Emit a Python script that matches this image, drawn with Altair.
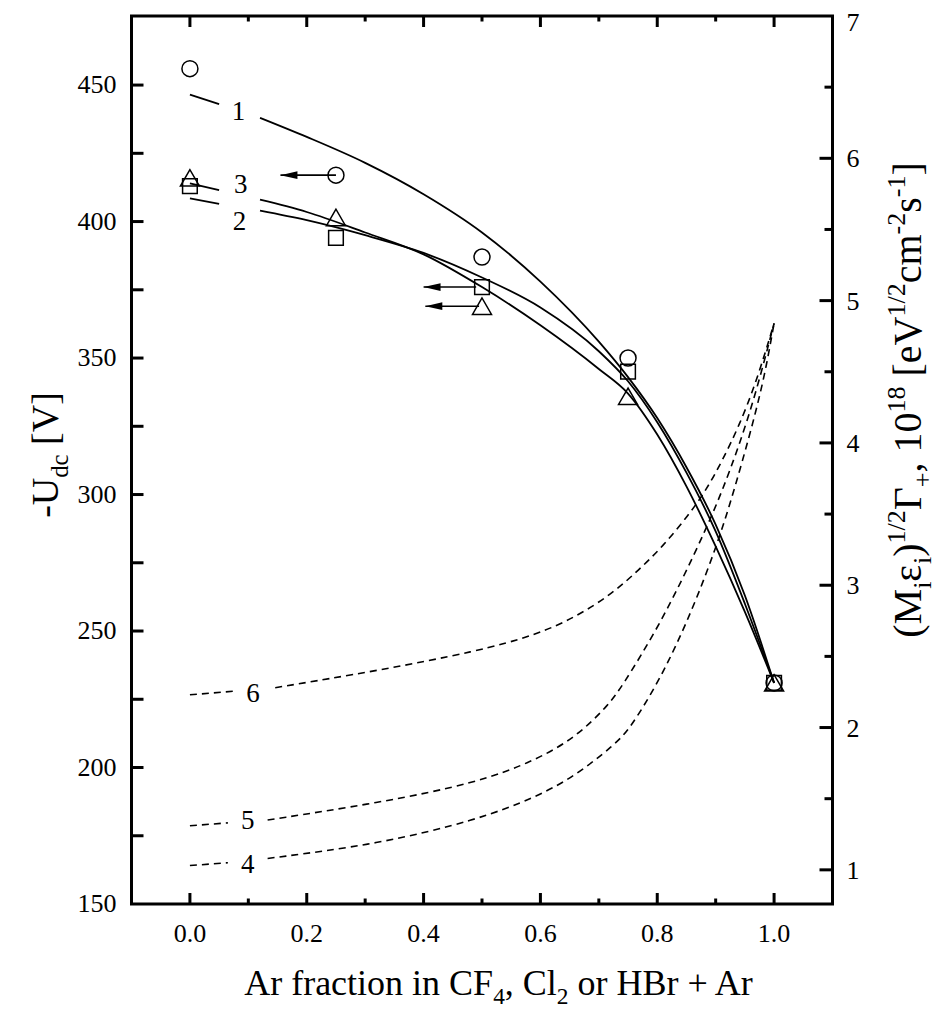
import altair as alt
import pandas as pd

FONT = "Liberation Serif"

# ---------------- data ----------------
# measured points (Ar fraction, -Udc [V])
x_frac = [0.0, 0.25, 0.5, 0.75, 1.0]
circle_v = [456, 417, 387, 350, 231]
square_v = [413, 394, 376, 345, 231]
triangle_v = [416, 401.5, 369, 336, 231]

# solid fitted curves 1,2,3 (left axis, V)
solid_x = [0, 0.05, 0.12, 0.2, 0.3, 0.4, 0.5, 0.6, 0.7, 0.75, 0.8, 0.85, 0.9, 0.95, 1.0]
curve1 = [446.5, 443, 438, 431, 421.5, 410, 396, 378, 356, 343, 328, 310, 289, 263, 231]
curve2 = [408.5, 406.5, 404, 400.5, 395, 388.5, 379.5, 368.5, 352.5, 341.5, 326.5, 308, 286.5, 260, 231]
curve3 = [414, 411.5, 408, 403.5, 396, 388, 376, 362, 346, 337, 322, 303, 281, 257, 231]
solid_gap = (0.05, 0.12)

# dashed curves 4,5,6 (right axis)
c4_x = [0, 0.065, 0.133, 0.322, 0.491, 0.592, 0.66, 0.727, 0.753, 0.799, 0.833, 0.867, 0.901, 0.923, 0.945, 0.969, 0.986, 1.0]
c4_y = [1.03, 1.05, 1.08, 1.18, 1.35, 1.51, 1.66, 1.88, 1.99, 2.30, 2.58, 2.90, 3.27, 3.55, 3.86, 4.22, 4.52, 4.84]
c4_gap = (0.065, 0.133)
c5_x = [0, 0.065, 0.133, 0.322, 0.491, 0.592, 0.66, 0.715, 0.74, 0.798, 0.843, 0.884, 0.911, 0.94, 0.969, 1.0]
c5_y = [1.31, 1.33, 1.35, 1.47, 1.61, 1.77, 1.93, 2.15, 2.29, 2.68, 3.04, 3.40, 3.66, 3.98, 4.35, 4.84]
c5_gap = (0.065, 0.133)
c6_x = [0, 0.075, 0.146, 0.322, 0.491, 0.592, 0.66, 0.723, 0.769, 0.809, 0.855, 0.884, 0.912, 0.94, 0.969, 1.0]
c6_y = [2.23, 2.255, 2.28, 2.40, 2.535, 2.65, 2.775, 2.94, 3.11, 3.27, 3.50, 3.67, 3.88, 4.12, 4.42, 4.84]
c6_gap = (0.075, 0.146)

# arrows (level, from, tip)
arrow_v = [417, 376, 369]
arrow_from = [0.25, 0.49, 0.495]
arrow_tip = [0.155, 0.40, 0.403]

# curve labels
lab_left_text = ["1", "3", "2"]
lab_left_x = [0.083, 0.087, 0.085]
lab_left_v = [440.2, 413.4, 399.9]
lab_right_text = ["6", "5", "4"]
lab_right_x = [0.108, 0.099, 0.099]
lab_right_v = [2.234, 1.346, 1.033]

# ticks / tick labels
x_major = [0.0, 0.2, 0.4, 0.6, 0.8, 1.0]
x_major_text = ["0.0", "0.2", "0.4", "0.6", "0.8", "1.0"]
x_minor = [0.1, 0.3, 0.5, 0.7, 0.9]
left_labels = [150, 200, 250, 300, 350, 400, 450]
left_ticks = [175, 200, 225, 250, 275, 300, 325, 350, 375, 400, 425, 450]
right_labels = [1, 2, 3, 4, 5, 6, 7]
right_major = [1, 2, 3, 4, 5, 6]
right_minor = [1.5, 2.5, 3.5, 4.5, 5.5, 6.5]

# ---------------- chart ----------------
W, H = 701, 888
XS = alt.Scale(domain=[-0.1, 1.1], nice=False, zero=False)
YL = alt.Scale(domain=[150, 475.3], nice=False, zero=False)
YR = alt.Scale(domain=[0.76, 7.0], nice=False, zero=False)
ONE = pd.DataFrame({"d": [0]})


def X(f):
    return alt.X(f, scale=XS, axis=None)


def YLf(f):
    return alt.Y(f, scale=YL, axis=None)


def YRf(f):
    return alt.Y(f, scale=YR, axis=None)


layers = []


def seg_df(xs, ys, gap):
    return pd.DataFrame({"x": xs, "y": ys, "seg": [0 if x <= gap[0] else 1 for x in xs]})


# measured markers
mk = pd.DataFrame({"x": x_frac, "c": circle_v, "s": square_v, "t": triangle_v})
layers.append(alt.Chart(mk).mark_point(shape="circle", size=256, filled=False, color="black",
                                       strokeWidth=1.5, opacity=1).encode(x=X("x:Q"), y=YLf("c:Q")))
layers.append(alt.Chart(mk).mark_point(shape="square", size=215, filled=False, color="black",
                                       strokeWidth=1.5, opacity=1).encode(x=X("x:Q"), y=YLf("s:Q")))
layers.append(alt.Chart(mk).mark_point(shape="triangle-up", size=361, filled=False, color="black",
                                       strokeWidth=1.5, opacity=1).encode(x=X("x:Q"), y=YLf("t:Q")))

# solid curves
for cy in (curve1, curve2, curve3):
    layers.append(alt.Chart(seg_df(solid_x, cy, solid_gap)).mark_line(
        color="black", strokeWidth=1.8, interpolate="monotone").encode(
        x=X("x:Q"), y=YLf("y:Q"), detail="seg:N"))

# dashed curves
for cx, cy, g in ((c4_x, c4_y, c4_gap), (c5_x, c5_y, c5_gap), (c6_x, c6_y, c6_gap)):
    layers.append(alt.Chart(seg_df(cx, cy, g)).mark_line(
        color="black", strokeWidth=1.6, strokeDash=[7, 5], interpolate="basis").encode(
        x=X("x:Q"), y=YRf("y:Q"), detail="seg:N"))

# arrows
ar = pd.DataFrame({"v": arrow_v, "x0": arrow_from, "x1": arrow_tip})
layers.append(alt.Chart(ar).mark_rule(color="black", strokeWidth=1.6).encode(
    x=X("x0:Q"), x2="x1:Q", y=YLf("v:Q")))
layers.append(alt.Chart(ar).mark_point(shape="M-1,0L1,-0.45L1,0.45Z", size=289, filled=True,
                                       color="black", opacity=1, xOffset=8.5).encode(
    x=X("x1:Q"), y=YLf("v:Q")))

# curve labels
ll = pd.DataFrame({"t": lab_left_text, "x": lab_left_x, "v": lab_left_v})
layers.append(alt.Chart(ll).mark_text(font=FONT, fontSize=27, color="black", align="center",
                                      baseline="middle").encode(x=X("x:Q"), y=YLf("v:Q"), text="t:N"))
lr = pd.DataFrame({"t": lab_right_text, "x": lab_right_x, "v": lab_right_v})
layers.append(alt.Chart(lr).mark_text(font=FONT, fontSize=27, color="black", align="center",
                                      baseline="middle").encode(x=X("x:Q"), y=YRf("v:Q"), text="t:N"))

# inward ticks
for vals, ln in ((x_major, 11), (x_minor, 5.5)):
    d = pd.DataFrame({"t": vals})
    layers.append(alt.Chart(d).mark_rule(color="black", strokeWidth=3).encode(
        x=X("t:Q"), y=alt.value(H), y2=alt.value(H - ln)))
    layers.append(alt.Chart(d).mark_rule(color="black", strokeWidth=3).encode(
        x=X("t:Q"), y=alt.value(0), y2=alt.value(ln)))
layers.append(alt.Chart(pd.DataFrame({"t": left_ticks})).mark_rule(color="black", strokeWidth=3).encode(
    y=YLf("t:Q"), x=alt.value(0), x2=alt.value(12)))
for vals, ln in ((right_major, 13), (right_minor, 8)):
    layers.append(alt.Chart(pd.DataFrame({"t": vals})).mark_rule(color="black", strokeWidth=3).encode(
        y=YRf("t:Q"), x=alt.value(W), x2=alt.value(W - ln)))

# tick labels
TL = 26
layers.append(alt.Chart(pd.DataFrame({"t": x_major, "s": x_major_text})).mark_text(
    font=FONT, fontSize=TL, color="black", align="center", baseline="alphabetic").encode(
    x=X("t:Q"), y=alt.value(H + 38), text="s:N"))
layers.append(alt.Chart(pd.DataFrame({"t": left_labels})).mark_text(
    font=FONT, fontSize=TL, color="black", align="right", baseline="middle").encode(
    y=YLf("t:Q"), x=alt.value(-15), text="t:Q"))
rl = pd.DataFrame({"t": right_labels})
layers.append(alt.Chart(rl[rl.t < 7]).mark_text(
    font=FONT, fontSize=TL, color="black", align="left", baseline="middle", dy=1).encode(
    y=YRf("t:Q"), x=alt.value(W + 14), text="t:Q"))
layers.append(alt.Chart(rl[rl.t == 7]).mark_text(
    font=FONT, fontSize=TL, color="black", align="left", baseline="middle", dy=7).encode(
    y=YRf("t:Q"), x=alt.value(W + 14), text="t:Q"))

# ---------------- rich-text titles ----------------
TW = {' ': 250, 'A': 722, 'r': 333, 'f': 333, 'a': 444, 'c': 444, 't': 278, 'i': 278, 'o': 500,
      'n': 500, 'C': 667, 'F': 556, ',': 250, 'l': 278, 'H': 722, 'B': 667, '+': 564, 'e': 444,
      'V': 722, '[': 333, ']': 333, 'U': 722, 'd': 500, '-': 333, 'M': 889, '(': 333, ')': 333,
      '/': 278, 'm': 778, 's': 389, 'Γ': 578, 'ε': 439}


def rich(pieces, x0, y0, size, angle):
    def sz(k):
        return size if k == "n" else size * 0.65

    def wid(t, k):
        return sum(TW.get(ch, 500) for ch in t) / 1000 * sz(k)

    total = sum(wid(t, k) for t, k in pieces)
    pos = -total / 2
    out = []
    for t, k in pieces:
        lead = len(t) - len(t.lstrip(" "))
        pos += wid(" " * lead, k)
        t2 = t.lstrip(" ")
        shift = {"n": 0, "sub": 0.25 * size, "sup": -0.40 * size}[k]
        if angle == 0:
            px, py = x0 + pos, y0 + shift
        else:
            px, py = x0 + shift, y0 - pos
        out.append(alt.Chart(ONE).mark_text(text=t2, font=FONT, fontSize=sz(k), angle=angle,
                                            align="left", baseline="alphabetic", color="black").encode(
            x=alt.value(px), y=alt.value(py)))
        pos += wid(t2, k)
    return out


xt = [("Ar fraction in CF", "n"), ("4", "sub"), (", Cl", "n"), ("2", "sub"), (" or HBr + Ar", "n")]
lt = [("-U", "n"), ("dc", "sub"), (" [V]", "n")]
rt = [("(M", "n"), ("i", "sub"), ("ε", "n"), ("i", "sub"), (")", "n"), ("1/2", "sup"), ("Γ", "n"),
      ("+", "sub"), (", 10", "n"), ("18", "sup"), (" [eV", "n"), ("1/2", "sup"), ("cm", "n"),
      ("-2", "sup"), ("s", "n"), ("-1", "sup"), ("]", "n")]

layers += rich(xt, 368, 979, 36, 0)
layers += rich(lt, -73.5, 439, 38, 270)
layers += rich(rt, 789.5, 384, 40, 270)

chart = alt.layer(*layers).resolve_scale(y="independent").properties(
    width=W, height=H,
    autosize=alt.AutoSizeParams(type="none"),
    padding={"left": 123.5, "top": 8, "right": 103.5, "bottom": 104},
).configure_view(stroke="black", strokeWidth=3).configure_text(font=FONT)

chart.save("out.html", embed_options={"renderer": "svg", "actions": False})
